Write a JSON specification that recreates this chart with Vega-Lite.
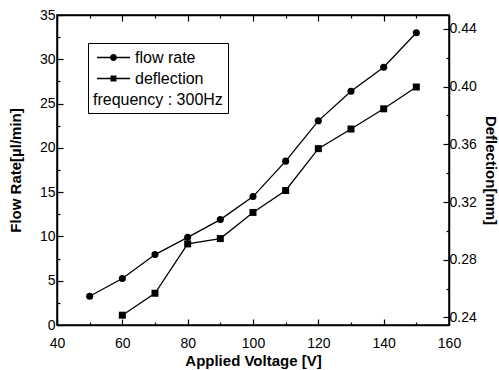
{
  "$schema": "https://vega.github.io/schema/vega-lite/v6.json",
  "width": 392,
  "height": 310,
  "autosize": {"type": "none"},
  "padding": {"left": 57, "right": 50, "top": 15, "bottom": 45},
  "background": "white",
  "config": {
    "view": {"stroke": "black", "strokeWidth": 1.5},
    "font": "Liberation Sans",
    "axis": {
      "domainColor": "black",
      "domainWidth": 1.5,
      "tickColor": "black",
      "tickWidth": 1.2,
      "labelColor": "black",
      "labelFont": "Liberation Sans",
      "labelFontSize": 14,
      "titleFont": "Liberation Sans",
      "titleFontSize": 15,
      "titleFontWeight": "bold",
      "titleColor": "black",
      "grid": false
    }
  },
  "data": {
    "values": [
      {"voltage": 50, "series": "flow rate", "value": 3.25},
      {"voltage": 60, "series": "flow rate", "value": 5.25},
      {"voltage": 70, "series": "flow rate", "value": 7.95},
      {"voltage": 80, "series": "flow rate", "value": 9.9},
      {"voltage": 90, "series": "flow rate", "value": 11.9},
      {"voltage": 100, "series": "flow rate", "value": 14.5},
      {"voltage": 110, "series": "flow rate", "value": 18.5},
      {"voltage": 120, "series": "flow rate", "value": 23.05},
      {"voltage": 130, "series": "flow rate", "value": 26.4},
      {"voltage": 140, "series": "flow rate", "value": 29.1},
      {"voltage": 150, "series": "flow rate", "value": 33.0},
      {"voltage": 60, "series": "deflection", "value": 0.2416},
      {"voltage": 70, "series": "deflection", "value": 0.2568},
      {"voltage": 80, "series": "deflection", "value": 0.291},
      {"voltage": 90, "series": "deflection", "value": 0.2947},
      {"voltage": 100, "series": "deflection", "value": 0.3128},
      {"voltage": 110, "series": "deflection", "value": 0.328},
      {"voltage": 120, "series": "deflection", "value": 0.357},
      {"voltage": 130, "series": "deflection", "value": 0.3706},
      {"voltage": 140, "series": "deflection", "value": 0.3846},
      {"voltage": 150, "series": "deflection", "value": 0.3997}
    ]
  },
  "layer": [
    {
      "transform": [{"filter": "datum.series === 'flow rate'"}],
      "encoding": {
        "x": {
          "field": "voltage", "type": "quantitative",
          "scale": {"domain": [40, 160], "nice": false, "zero": false},
          "axis": {
            "orient": "bottom",
            "title": "Applied Voltage [V]",
            "values": [40, 50, 60, 70, 80, 90, 100, 110, 120, 130, 140, 150, 160],
            "labelExpr": "datum.value % 20 === 0 ? datum.label : ''",
            "tickSize": {"condition": {"test": "datum.value % 20 === 0", "value": -6}, "value": -3},
            "labelPadding": 17,
            "titlePadding": 3,
            "labelFlush": false
          }
        },
        "y": {
          "field": "value", "type": "quantitative",
          "scale": {"domain": [0, 35], "nice": false, "zero": false},
          "axis": {
            "orient": "left",
            "title": "Flow Rate[µl/min]",
            "values": [0, 2.5, 5, 7.5, 10, 12.5, 15, 17.5, 20, 22.5, 25, 27.5, 30, 32.5, 35],
            "labelExpr": "datum.value % 5 === 0 ? datum.label : ''",
            "tickSize": {"condition": {"test": "datum.value % 5 === 0", "value": -6}, "value": -3},
            "labelPadding": 8,
            "titlePadding": 16,
            "labelFlush": false
          }
        }
      },
      "layer": [
        {"mark": {"type": "line", "color": "black", "strokeWidth": 1.3}},
        {"mark": {"type": "point", "shape": "circle", "filled": true, "color": "black", "opacity": 1, "size": 50}},
        {
          "transform": [{"filter": "false"}],
          "mark": {"type": "point", "filled": true, "color": "black", "opacity": 1},
          "encoding": {
            "shape": {
              "field": "series", "type": "nominal",
              "scale": {
                "domain": ["flow rate", "deflection"],
                "range": [
                  "M-1.94,-0.08L-0.41,-0.08L-0.41,0.08L-1.94,0.08Z M0.41,-0.08L1.94,-0.08L1.94,0.08L0.41,0.08Z M-0.41,0A0.41,0.41,0,1,0,0.41,0A0.41,0.41,0,1,0,-0.41,0Z",
                  "M-1.94,-0.08L-0.35,-0.08L-0.35,0.08L-1.94,0.08Z M0.35,-0.08L1.94,-0.08L1.94,0.08L0.35,0.08Z M-0.35,-0.35L0.35,-0.35L0.35,0.35L-0.35,0.35Z"
                ]
              },
              "legend": {
                "orient": "none",
                "legendX": 31,
                "legendY": 28,
                "title": "frequency : 300Hz",
                "titleOrient": "bottom",
                "titleFontSize": 16,
                "titleFontWeight": "normal",
                "titleColor": "black",
                "titlePadding": 5,
                "labelFontSize": 16,
                "labelColor": "black",
                "labelOffset": 12,
                "symbolSize": 289,
                "symbolFillColor": "black",
                "symbolOpacity": 1,
                "symbolOffset": 11,
                "rowPadding": 3,
                "padding": 5,
                "strokeColor": "black",
                "fillColor": "white"
              }
            }
          }
        }
      ]
    },
    {
      "transform": [{"filter": "datum.series === 'deflection'"}],
      "encoding": {
        "x": {
          "field": "voltage", "type": "quantitative",
          "scale": {"domain": [40, 160], "nice": false, "zero": false},
          "axis": {
            "orient": "top",
            "title": null,
            "values": [40, 50, 60, 70, 80, 90, 100, 110, 120, 130, 140, 150, 160],
            "labels": false,
            "tickSize": {"condition": {"test": "datum.value % 20 === 0", "value": -6}, "value": -3}
          }
        },
        "y": {
          "field": "value", "type": "quantitative",
          "scale": {"domain": [0.2348, 0.4496], "nice": false, "zero": false},
          "axis": {
            "orient": "right",
            "title": "Deflection[mm]",
            "values": [0.24, 0.26, 0.28, 0.3, 0.32, 0.34, 0.36, 0.38, 0.4, 0.42, 0.44],
            "format": ".2f",
            "labelExpr": "round(datum.value * 100) % 4 === 0 ? datum.label : ''",
            "tickSize": {"condition": {"test": "round(datum.value * 100) % 4 === 0", "value": -6}, "value": -3},
            "labelPadding": 6,
            "titlePadding": 6,
            "labelFlush": false
          }
        }
      },
      "layer": [
        {"mark": {"type": "line", "color": "black", "strokeWidth": 1.3}},
        {"mark": {"type": "point", "shape": "square", "filled": true, "color": "black", "opacity": 1, "size": 49}}
      ]
    }
  ],
  "resolve": {"scale": {"y": "independent"}, "axis": {"x": "independent", "y": "independent"}}
}
